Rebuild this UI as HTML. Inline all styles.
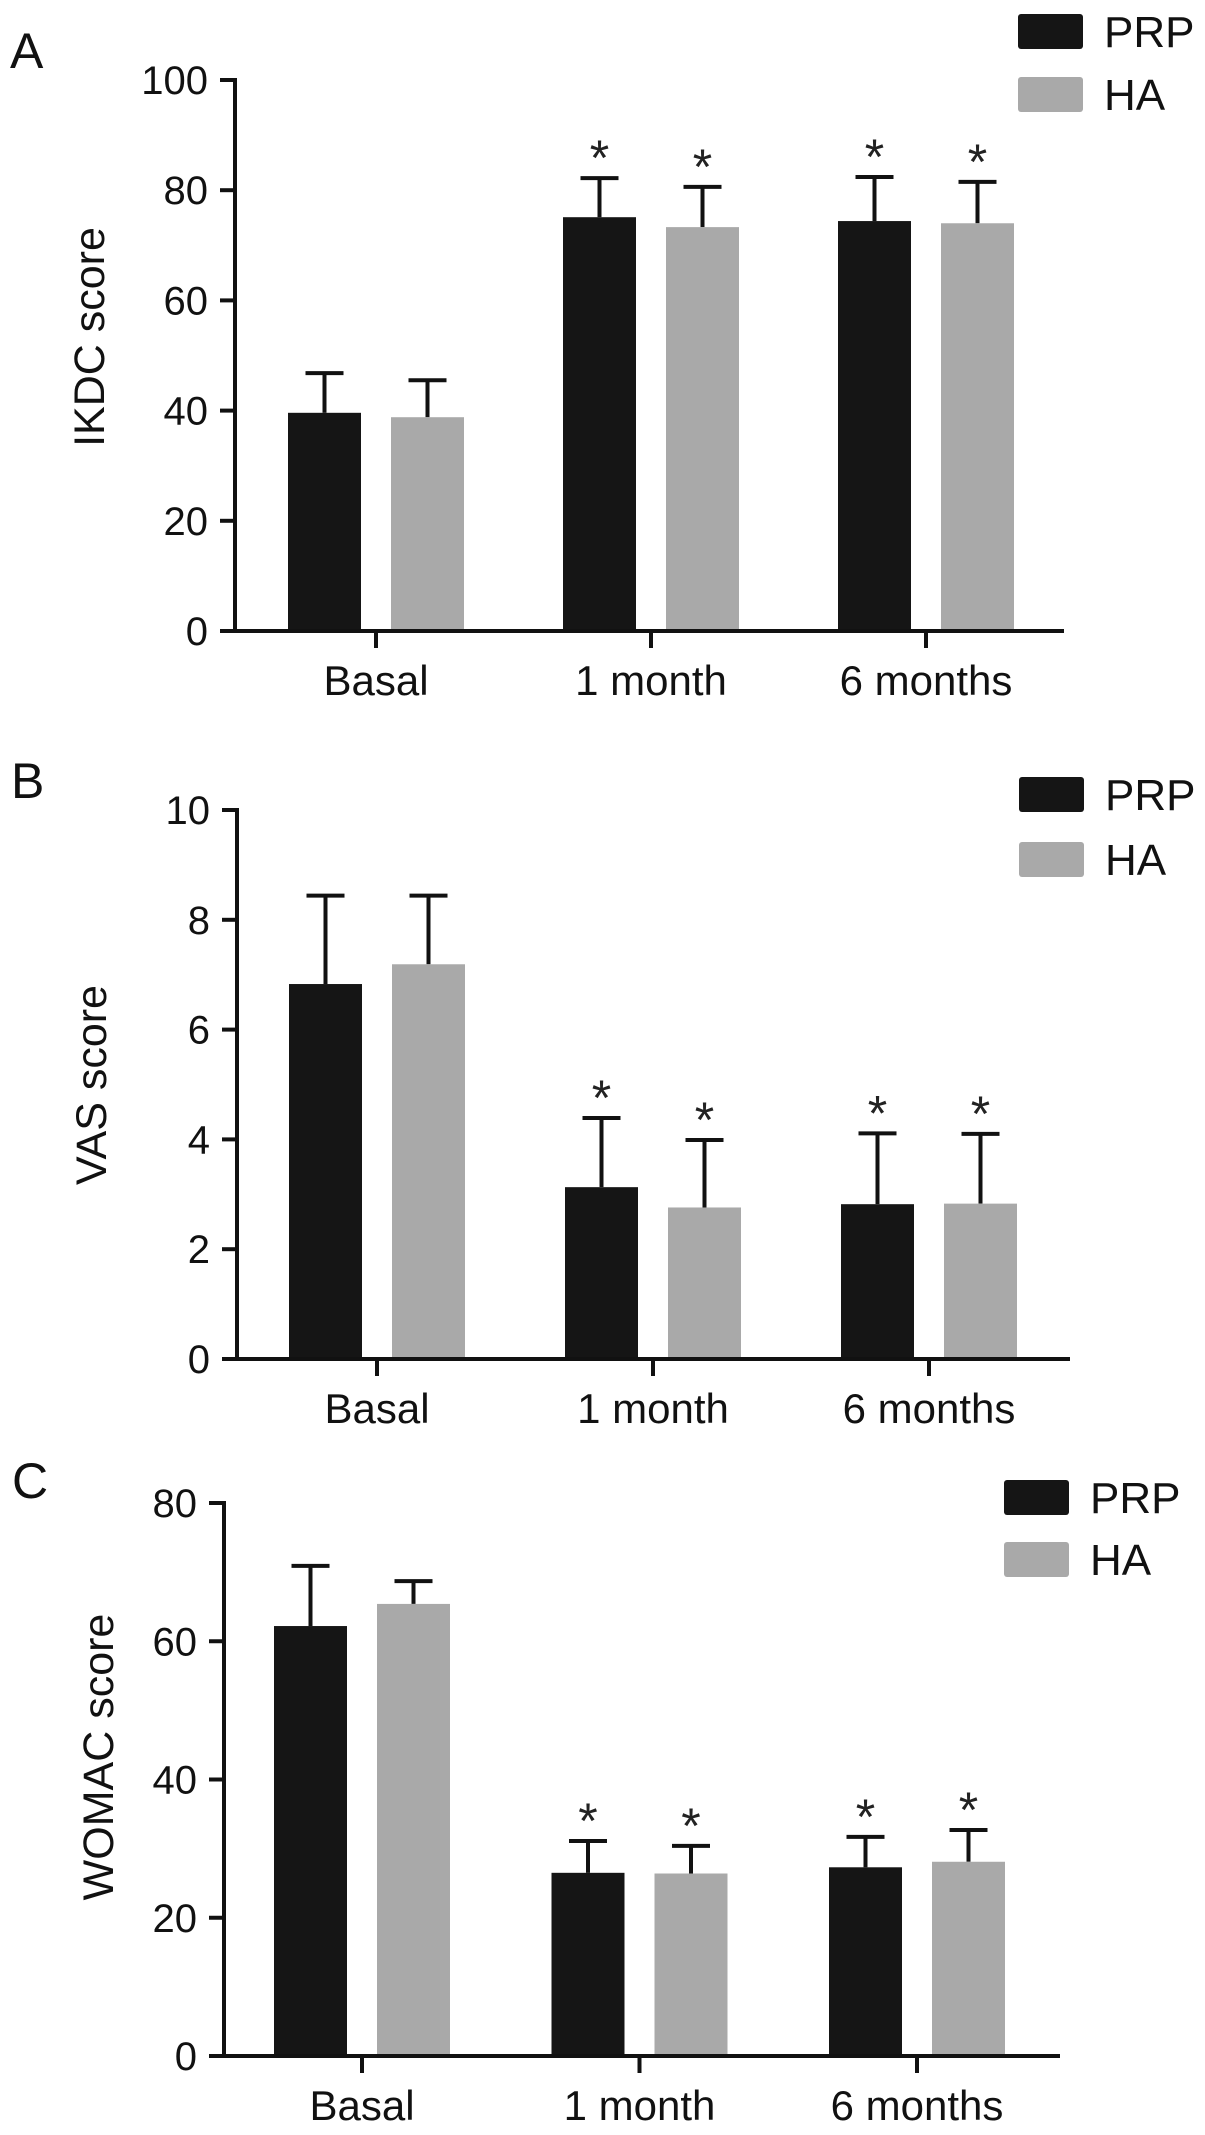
<!DOCTYPE html>
<html><head><meta charset="utf-8"><style>
html,body{margin:0;padding:0;background:#fff;}
svg{display:block;font-family:"Liberation Sans",Arial,sans-serif;}
</style></head><body>
<svg id="fig" width="1205" height="2135" viewBox="0 0 1205 2135" xmlns="http://www.w3.org/2000/svg"></svg>
<script>
const categories = ["Basal", "1 month", "6 months"];
const seriesNames = ["PRP", "HA"];
const ikdcPRP = [39.6, 75.1, 74.4];
const ikdcPRPErr = [7.2, 7.1, 8.0];
const ikdcHA = [38.8, 73.3, 74.0];
const ikdcHAErr = [6.7, 7.3, 7.5];
const ikdcTicks = [0, 20, 40, 60, 80, 100];
const vasPRP = [6.83, 3.13, 2.82];
const vasPRPErr = [1.61, 1.26, 1.29];
const vasHA = [7.19, 2.76, 2.83];
const vasHAErr = [1.25, 1.23, 1.27];
const vasTicks = [0, 2, 4, 6, 8, 10];
const womacPRP = [62.2, 26.5, 27.3];
const womacPRPErr = [8.7, 4.6, 4.4];
const womacHA = [65.4, 26.4, 28.1];
const womacHAErr = [3.3, 4.0, 4.6];
const womacTicks = [0, 20, 40, 60, 80];
const ikdcSig = [[false, true, true], [false, true, true]];
const vasSig = [[false, true, true], [false, true, true]];
const womacSig = [[false, true, true], [false, true, true]];

const NS = "http://www.w3.org/2000/svg";
const svg = document.getElementById("fig");
function mk(tag, attrs, parent) {
  const e = document.createElementNS(NS, tag);
  for (const k in attrs) e.setAttribute(k, attrs[k]);
  (parent || svg).appendChild(e);
  return e;
}

const colors = ["#151515", "#a9a9a9"];

function panel(cfg) {
  const g = mk("g", {});
  
  
  const yMax = cfg.ticks[cfg.ticks.length - 1];
  const y = v => cfg.y0 - (v / yMax) * (cfg.y0 - cfg.yTop);
  const xc = i => cfg.x0c + i * cfg.step;

  const letter = mk("text", {x: cfg.letterX, y: cfg.letterY, "font-size": 50, fill: "#111"}, g);
  letter.textContent = cfg.letter;
  
  

  const ya = mk("line", {x1: cfg.ax, x2: cfg.ax, y1: cfg.yTop - 2, y2: cfg.y0 + 2, stroke: "#111", "stroke-width": 4}, g);
  
  
  cfg.ticks.forEach(t => {
    const tl = mk("line", {x1: cfg.ax - 15, x2: cfg.ax, y1: y(t), y2: y(t), stroke: "#111", "stroke-width": 4}, g);
    
    
    const tx = mk("text", {x: cfg.ax - 27, y: y(t) + 14, "font-size": 40, "text-anchor": "end", fill: "#111"}, g);
    tx.textContent = t;
    
    
  });
  const ttl = mk("text", {x: 0, y: 0, "font-size": cfg.titleSize, "text-anchor": "middle", fill: "#111",
    transform: "translate(" + cfg.titleX + "," + cfg.titleY + ") rotate(-90)"}, g);
  ttl.textContent = cfg.title;
  
  

  const series = [cfg.prp, cfg.ha];
  const errs = [cfg.prpErr, cfg.haErr];
  categories.forEach((c, i) => {
    series.forEach((s, k) => {
      const left = k === 0 ? xc(i) - 88 : xc(i) + 15;
      const w = 73;
      const cx = left + w / 2;
      const top = y(s[i]);
      const et = y(s[i] + errs[k][i]);
      const el = mk("line", {x1: cx, x2: cx, y1: top, y2: et, stroke: "#111", "stroke-width": 4}, g);
      
      
      const cap = mk("line", {x1: cx - 19, x2: cx + 19, y1: et, y2: et, stroke: "#111", "stroke-width": 4}, g);
      
      
      const r = mk("rect", {x: left, y: top, width: w, height: cfg.y0 - top, fill: colors[k]}, g);
      
      
      if (cfg.sig[k][i]) {
        const st = mk("text", {x: cx, y: et - 3, "font-size": 50, "text-anchor": "middle", fill: "#222"}, g);
        st.textContent = "*";
        
        
      }
    });
    const ct = mk("line", {x1: xc(i), x2: xc(i), y1: cfg.y0, y2: cfg.y0 + 17, stroke: "#111", "stroke-width": 4}, g);
    
    
    const cl = mk("text", {x: xc(i), y: cfg.y0 + 64, "font-size": 42, "text-anchor": "middle", fill: "#111"}, g);
    cl.textContent = c;
    
    
  });
  const xa = mk("line", {x1: cfg.ax - 15, x2: cfg.axEnd, y1: cfg.y0, y2: cfg.y0, stroke: "#111", "stroke-width": 4}, g);
  
  

  seriesNames.forEach((n, k) => {
    const ly = cfg.legY + k * cfg.legGap;
    const sw = mk("rect", {x: cfg.legX, y: ly, width: 65, height: 35, rx: 3, fill: colors[k]}, g);
    
    
    const lt = mk("text", {x: cfg.legX + 86, y: ly + 33, "font-size": 44, fill: "#111"}, g);
    lt.textContent = n;
    
    
  });
}

panel({key: "ikdc", letter: "A", letterX: 10, letterY: 68, ax: 235, y0: 631, yTop: 80, axEnd: 1064,
  x0c: 376, step: 275, ticks: ikdcTicks, prp: ikdcPRP, prpErr: ikdcPRPErr, ha: ikdcHA, haErr: ikdcHAErr,
  sig: ikdcSig, title: "IKDC score", titleX: 104, titleY: 337, titleSize: 43, legX: 1018, legY: 14, legGap: 63});
panel({key: "vas", letter: "B", letterX: 11, letterY: 798, ax: 237, y0: 1359, yTop: 810, axEnd: 1070,
  x0c: 377, step: 276, ticks: vasTicks, prp: vasPRP, prpErr: vasPRPErr, ha: vasHA, haErr: vasHAErr,
  sig: vasSig, title: "VAS score", titleX: 106, titleY: 1085, titleSize: 43, legX: 1019, legY: 777, legGap: 65});
panel({key: "womac", letter: "C", letterX: 12, letterY: 1498, ax: 224, y0: 2056, yTop: 1503, axEnd: 1060,
  x0c: 362, step: 277.5, ticks: womacTicks, prp: womacPRP, prpErr: womacPRPErr, ha: womacHA, haErr: womacHAErr,
  sig: womacSig, title: "WOMAC score", titleX: 113, titleY: 1757, titleSize: 43, legX: 1004, legY: 1480, legGap: 62});
</script>
</body></html>
